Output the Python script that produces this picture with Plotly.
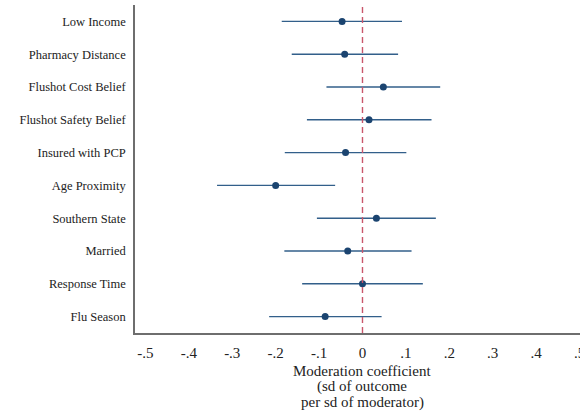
import plotly.graph_objects as go

# Moderators, listed from bottom to top of the chart
moderators = ["Flu Season", "Response Time", "Married", "Southern State", "Age Proximity",
              "Insured with PCP", "Flushot Safety Belief", "Flushot Cost Belief",
              "Pharmacy Distance", "Low Income"]
estimate = [-0.086, 0.000, -0.034, 0.032, -0.200, -0.039, 0.015, 0.048, -0.041, -0.047]
ci_low = [-0.215, -0.139, -0.180, -0.105, -0.335, -0.179, -0.128, -0.083, -0.163, -0.186]
ci_high = [0.044, 0.139, 0.113, 0.169, -0.063, 0.101, 0.159, 0.179, 0.082, 0.091]

x_tick_vals = [-0.5, -0.4, -0.3, -0.2, -0.1, 0, 0.1, 0.2, 0.3, 0.4, 0.5]
x_tick_text = ["-.5", "-.4", "-.3", "-.2", "-.1", "0", ".1", ".2", ".3", ".4", ".5"]
x_title_lines = ["Moderation coefficient", "(sd of outcome", "per sd of moderator)"]

positions = list(range(1, len(moderators) + 1))
err_plus = [h - e for h, e in zip(ci_high, estimate)]
err_minus = [e - l for e, l in zip(estimate, ci_low)]

serif = "'Liberation Serif', Tinos, 'Noto Serif', 'DejaVu Serif', serif"

fig = go.Figure()
fig.add_trace(go.Scatter(
    x=estimate, y=positions, mode="markers",
    marker=dict(color="#1b4470", size=7),
    error_x=dict(type="data", symmetric=False, array=err_plus, arrayminus=err_minus,
                 color="#325f8a", thickness=1.4, width=0),
    showlegend=False,
))

# reference line at zero effect
fig.add_shape(type="line", x0=0, x1=0, xref="x", y0=0, y1=1.0, yref="paper",
              line=dict(color="#c9566b", width=1.4, dash="6px,4px"))

# x-axis title, three tightly spaced lines centred under zero
for i, line in enumerate(x_title_lines):
    fig.add_annotation(x=0, xref="x", y=-(371 + 15.5 * i - 333) / 328, yref="paper",
                       xanchor="center", yanchor="middle", text=line, showarrow=False,
                       font=dict(size=15, family=serif, color="#222222"))

fig.update_layout(
    width=580, height=415,
    margin=dict(l=135, r=0, t=5, b=82),
    plot_bgcolor="white", paper_bgcolor="white",
    font=dict(family=serif, color="#222222"),
)
fig.update_xaxes(
    range=[-0.524, 0.501], tickvals=x_tick_vals, ticktext=x_tick_text,
    tickfont=dict(size=15, family=serif), showgrid=False, zeroline=False,
    showline=True, linecolor="#6e6e6e", linewidth=1.6, ticks="",
    ticklabelstandoff=5, ticklabeloverflow="allow", automargin=False,
)
fig.update_yaxes(
    range=[0.5, 10.5], tickvals=positions, ticktext=moderators,
    tickfont=dict(size=12.5, family=serif), showgrid=False, zeroline=False,
    showline=True, linecolor="#6e6e6e", linewidth=1.6, ticks="",
    ticklabelstandoff=5, automargin=False,
)

fig.write_html("out.html")
